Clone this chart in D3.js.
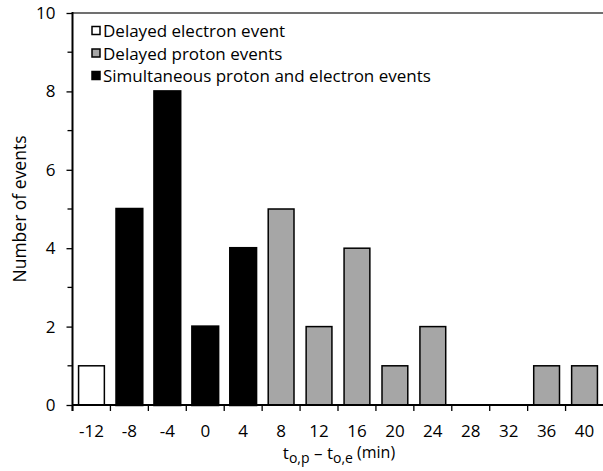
<!DOCTYPE html>
<html>
<head>
<meta charset="utf-8">
<script src="https://cdn.jsdelivr.net/npm/d3@7"></script>
<style>
  body { margin: 0; background: #fff; }
  text { font-family: "Open Sans", "Noto Sans", sans-serif; fill: #000; }
</style>
</head>
<body>
<svg width="603" height="471"></svg>
<script>
// values
const categories = [-12, -8, -4, 0, 4, 8, 12, 16, 20, 24, 28, 32, 36, 40];
const counts = [1, 5, 8, 2, 4, 5, 2, 4, 1, 2, 0, 0, 1, 1];
const groups = ["electron", "simul", "simul", "simul", "simul", "proton", "proton", "proton", "proton", "proton", "proton", "proton", "proton", "proton"];
const yTicks = [0, 2, 4, 6, 8, 10];
const yMinor = [1, 3, 5, 7, 9];
const legendItems = [
  { key: "electron", label: "Delayed electron event" },
  { key: "proton", label: "Delayed proton events" },
  { key: "simul", label: "Simultaneous proton and electron events" }
];
const fills = { electron: "#ffffff", proton: "#a6a6a6", simul: "#000000" };

const svg = d3.select("svg");
const plotLeft = 72.5, plotRight = 603.5, plotTop = 13, plotBottom = 405;

const x = d3.scaleBand()
  .domain(categories)
  .range([plotLeft, plotRight])
  .paddingInner(0.32)
  .paddingOuter(0.16);

const y = d3.scaleLinear().domain([0, 10]).range([plotBottom, plotTop]);

// top frame line
svg.append("line")
  .attr("x1", plotLeft).attr("x2", plotRight)
  .attr("y1", plotTop).attr("y2", plotTop)
  .attr("stroke", "#404040").attr("stroke-width", 1.5);

// bars
const data = categories.map((c, i) => ({ c: c, v: counts[i], g: groups[i] }));
svg.append("g").selectAll("rect")
  .data(data.filter(d => d.v > 0))
  .enter().append("rect")
  .attr("x", d => x(d.c))
  .attr("width", x.bandwidth())
  .attr("y", d => y(d.v))
  .attr("height", d => y(0) - y(d.v))
  .attr("fill", d => fills[d.g])
  .attr("stroke", "#000")
  .attr("stroke-width", d => d.g == "simul" ? 2.5 : 1.5);

// y axis
const yAxis = svg.append("g")
  .attr("transform", "translate(" + plotLeft + ",0)")
  .call(d3.axisLeft(y).tickValues(yTicks).tickSize(6).tickPadding(11));
yAxis.select(".domain").remove();
yAxis.selectAll("text").style("font-size", "17px").style("font-family", "'Open Sans', sans-serif");
yAxis.selectAll("line").attr("stroke-width", 1.3);

svg.append("g").selectAll("line")
  .data(yMinor)
  .enter().append("line")
  .attr("x1", plotLeft - 5).attr("x2", plotLeft)
  .attr("y1", d => y(d)).attr("y2", d => y(d))
  .attr("stroke", "#000").attr("stroke-width", 1.3);

svg.append("line")
  .attr("x1", plotLeft).attr("x2", plotLeft)
  .attr("y1", plotTop - 1).attr("y2", plotBottom + 6)
  .attr("stroke", "#000").attr("stroke-width", 2);

// x axis
svg.append("line")
  .attr("x1", plotLeft).attr("x2", plotRight)
  .attr("y1", plotBottom).attr("y2", plotBottom)
  .attr("stroke", "#000").attr("stroke-width", 2);

const step = x.step();
svg.append("g").selectAll("line")
  .data(categories)
  .enter().append("line")
  .attr("x1", d => x(d) - step * 0.16)
  .attr("x2", d => x(d) - step * 0.16)
  .attr("y1", plotBottom).attr("y2", plotBottom + 6)
  .attr("stroke", "#000").attr("stroke-width", 1.3);

svg.append("g").selectAll("text")
  .data(categories)
  .enter().append("text")
  .attr("x", d => x(d) + x.bandwidth() / 2)
  .attr("y", 437)
  .attr("text-anchor", "middle")
  .style("font-size", "17px")
  .text(d => d);

// axis titles
svg.append("text")
  .attr("transform", "translate(26," + ((plotTop + plotBottom) / 2) + ") rotate(-90)")
  .attr("text-anchor", "middle")
  .style("font-size", "17.5px")
  .text("Number of events");

const xt = svg.append("text")
  .attr("x", 339).attr("y", 459)
  .attr("text-anchor", "middle")
  .style("font-size", "17px");
xt.append("tspan").text("t");
xt.append("tspan").attr("dy", 3.5).style("font-size", "14px").text("o,p");
xt.append("tspan").attr("dy", -3.5).text(" \u2013 t");
xt.append("tspan").attr("dy", 3.5).style("font-size", "14px").text("o,e");
xt.append("tspan").attr("dy", -4.5).style("font-size", "16px").text(" (min)");

// legend
const lg = svg.append("g").selectAll("g")
  .data(legendItems)
  .enter().append("g")
  .attr("transform", (d, i) => "translate(92," + (31 + i * 22.5) + ")");
lg.append("rect")
  .attr("x", 0).attr("y", -4.5)
  .attr("width", 8).attr("height", 8)
  .attr("fill", d => fills[d.key])
  .attr("stroke", "#000").attr("stroke-width", 1.5);
lg.append("text")
  .attr("x", 11).attr("y", 6)
  .style("font-size", "17px")
  .text(d => d.label);
</script>
</body>
</html>
